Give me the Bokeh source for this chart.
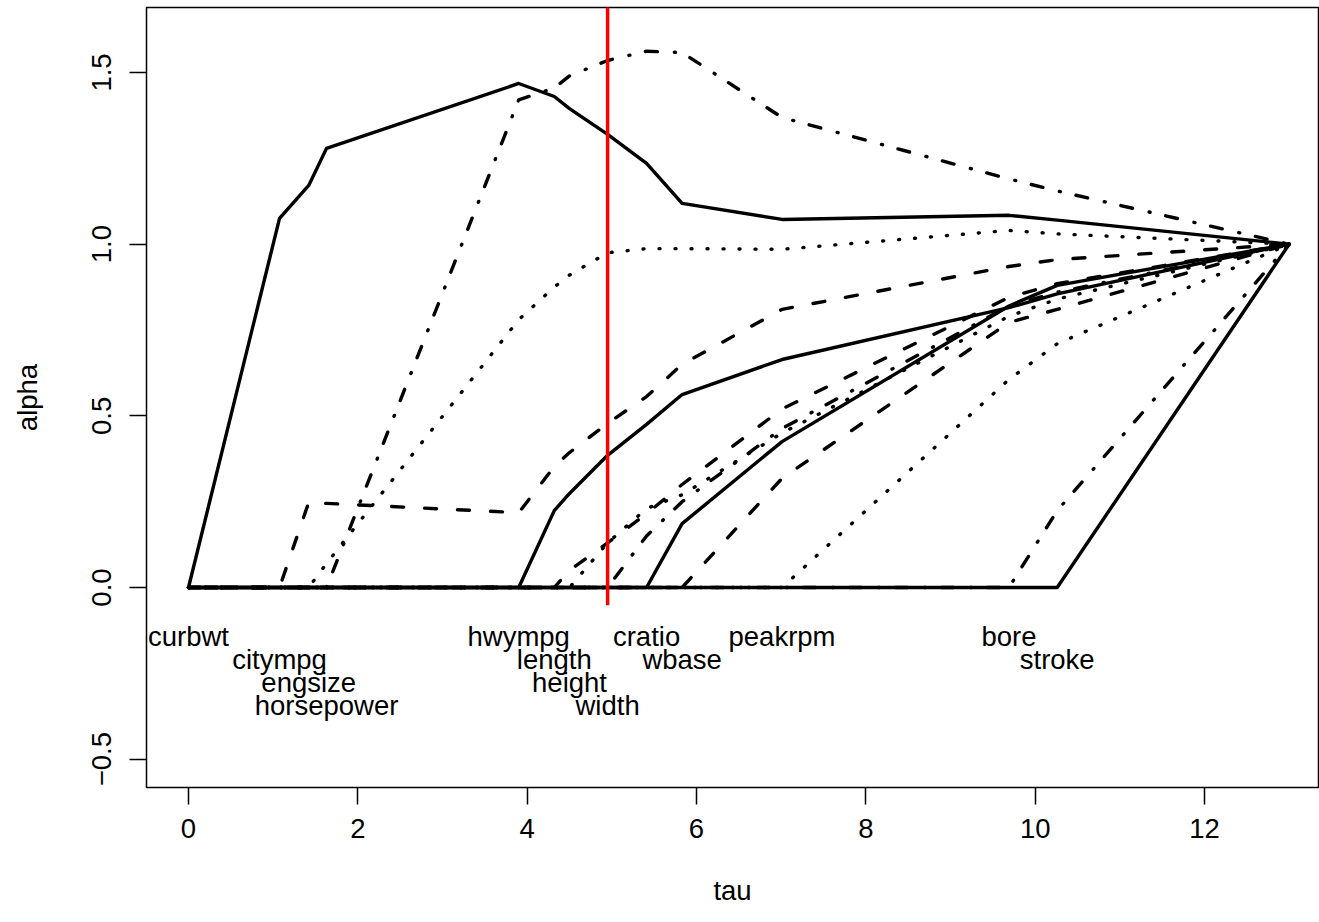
from bokeh.plotting import figure
from bokeh.models import FixedTicker
from bokeh.embed import file_html
from bokeh.resources import INLINE
from bokeh.core.properties import value

# knot positions (tau)
tau = [0, 1.075, 1.42, 1.63, 3.90, 4.32, 4.50, 4.95, 5.41, 5.83, 7.01, 9.69, 10.26, 13]

names = ["curbwt", "citympg", "engsize", "horsepower", "hwympg", "length",
         "height", "width", "cratio", "wbase", "peakrpm", "bore", "stroke"]

curbwt     = [0, 1.075, 1.171, 1.279, 1.468, 1.430, 1.395, 1.320, 1.235, 1.119, 1.072, 1.084, 1.070, 1.0]
citympg    = [0, 0, 0.248, 0.245, 0.218, 0.352, 0.393, 0.478, 0.556, 0.650, 0.810, 0.935, 0.955, 1.0]
engsize    = [0, 0, 0, 0.070, 0.780, 0.875, 0.910, 0.975, 0.987, 0.987, 0.985, 1.040, 1.030, 1.0]
horsepower = [0, 0, 0, 0, 1.420, 1.455, 1.490, 1.535, 1.562, 1.558, 1.369, 1.190, 1.155, 1.0]
hwympg     = [0, 0, 0, 0, 0, 0.224, 0.274, 0.385, 0.475, 0.562, 0.664, 0.815, 0.855, 1.0]
length     = [0, 0, 0, 0, 0, 0, 0.050, 0.130, 0.215, 0.300, 0.520, 0.845, 0.885, 1.0]
height     = [0, 0, 0, 0, 0, 0, 0, 0.130, 0.230, 0.270, 0.450, 0.790, 0.840, 1.0]
width      = [0, 0, 0, 0, 0, 0, 0, 0, 0.150, 0.250, 0.463, 0.820, 0.860, 1.0]
cratio     = [0, 0, 0, 0, 0, 0, 0, 0, 0, 0.186, 0.425, 0.820, 0.880, 1.0]
wbase      = [0, 0, 0, 0, 0, 0, 0, 0, 0, 0, 0.318, 0.772, 0.810, 1.0]
peakrpm    = [0, 0, 0, 0, 0, 0, 0, 0, 0, 0, 0, 0.606, 0.710, 1.0]
bore       = [0, 0, 0, 0, 0, 0, 0, 0, 0, 0, 0, 0, 0.224, 1.0]
stroke     = [0, 0, 0, 0, 0, 0, 0, 0, 0, 0, 0, 0, 0, 1.0]

series = [curbwt, citympg, engsize, horsepower, hwympg, length, height,
          width, cratio, wbase, peakrpm, bore, stroke]

label_rows = [0, 1, 2, 3, 0, 1, 2, 3, 0, 1, 0, 0, 1]
label_row_y = [-0.142, -0.21, -0.277, -0.345]

cv_tau = 4.95

x_ticks = [0, 2, 4, 6, 8, 10, 12]
y_ticks = [-0.5, 0.0, 0.5, 1.0, 1.5]
y_tick_labels = {-0.5: "\u22120.5", 0.0: "0.0", 0.5: "0.5", 1.0: "1.0", 1.5: "1.5"}

FONT = "Liberation Sans"
FS = "27.5px"

p = figure(width=1319, height=914, output_backend="svg", toolbar_location=None,
           x_range=(-0.496, 13.346), y_range=(-0.5825, 1.6893),
           min_border_left=146, min_border_right=1, min_border_top=7,
           min_border_bottom=127)
p.background_fill_color = "white"
p.border_fill_color = "white"
p.xgrid.visible = False
p.ygrid.visible = False
p.outline_line_color = "black"
p.outline_line_width = 1.5

styles = ["solid", "12 21", "1 15", "1 16 12 17"]
for i, s in enumerate(series):
    p.line(tau, s, line_color="black", line_width=3.4,
           line_dash=styles[i % 4], line_cap="round", line_join="round")

# CV line
p.segment(x0=[cv_tau], y0=[-0.052], x1=[cv_tau], y1=[2.0],
          line_color="red", line_width=3.5)

# variable labels
lab_x = [tau[i] for i in range(len(names))]
lab_y = [label_row_y[r] for r in label_rows]
p.text(x=lab_x, y=lab_y, text=names, text_font=value(FONT), text_font_size=FS,
       text_align="center", text_baseline="middle", text_color="black")

for ax in (p.xaxis[0], p.yaxis[0]):
    ax.axis_line_color = None
    ax.major_tick_line_color = "black"
    ax.major_tick_line_width = 1.5
    ax.major_tick_out = 17
    ax.major_tick_in = 0
    ax.minor_tick_line_color = None
    ax.major_label_text_font = FONT
    ax.major_label_text_font_size = FS
    ax.major_label_text_color = "black"
    ax.axis_label_text_font = FONT
    ax.axis_label_text_font_size = FS
    ax.axis_label_text_font_style = "normal"
    ax.axis_label_text_color = "black"

p.xaxis[0].ticker = FixedTicker(ticks=x_ticks)
p.xaxis[0].axis_label = "tau"
p.xaxis[0].major_label_standoff = 14
p.xaxis[0].axis_label_standoff = 34

p.yaxis[0].ticker = FixedTicker(ticks=y_ticks)
p.yaxis[0].major_label_overrides = y_tick_labels
p.yaxis[0].major_label_orientation = "vertical"
p.yaxis[0].axis_label = "alpha"
p.yaxis[0].major_label_standoff = 18
p.yaxis[0].axis_label_standoff = 47

open("out.html", "w").write(file_html(p, INLINE))
